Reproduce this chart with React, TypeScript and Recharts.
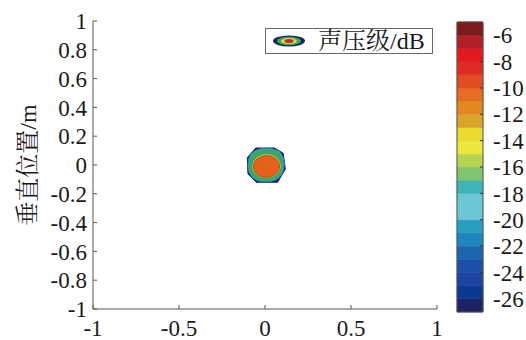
import React from 'react';
import {
  ScatterChart,
  Scatter,
  XAxis,
  YAxis,
  Legend,
  ComposedChart,
  ReferenceArea,
  Label,
} from 'recharts';

// ---------- data ----------
const xTicks = [-1, -0.5, 0, 0.5, 1];
const yTicks = [-1, -0.8, -0.6, -0.4, -0.2, 0, 0.2, 0.4, 0.6, 0.8, 1];
const colorbarTicks = [-26, -24, -22, -20, -18, -16, -14, -12, -10, -8, -6];
const bandEdges = [
  -27, -26, -25, -24, -23, -22, -21, -20, -19, -18, -17, -16, -15, -14, -13, -12,
  -11, -10, -9, -8, -7, -6, -5,
];
// colormap, from lowest band to highest band
const bandColors = [
  '#1c2262', '#0c3890', '#1a44a0', '#1c50a8', '#1c66b0', '#1e86bc', '#2a9ec0',
  '#6cc6d6', '#6cc6d6', '#3db5b8', '#80c470', '#b8d252', '#ece83c', '#eadc2e',
  '#d8a42a', '#e2881f', '#e56c20', '#e24c22', '#e02a24', '#e3191f', '#b21f24',
  '#7d1a20',
];

const legendName = '声压级/dB';
const yLabel = '垂直位置/m';

// contour levels (outer to inner), points in metres
const contourNavy = [
  { x: -0.054, y: 0.118 }, { x: 0.056, y: 0.118 }, { x: 0.106, y: 0.081 },
  { x: 0.118, y: -0.03 }, { x: 0.073, y: -0.12 }, { x: -0.05, y: -0.12 },
  { x: -0.099, y: -0.062 }, { x: -0.103, y: 0.051 },
];
const contourCyan = [
  { x: -0.054, y: 0.118 }, { x: 0.056, y: 0.118 }, { x: 0.106, y: 0.081 },
  { x: 0.118, y: -0.03 }, { x: 0.073, y: -0.12 }, { x: -0.05, y: -0.12 },
  { x: -0.099, y: -0.062 }, { x: -0.103, y: 0.051 },
];
const contourGreen = [
  { x: -0.05, y: 0.11 }, { x: 0.053, y: 0.11 }, { x: 0.099, y: 0.075 },
  { x: 0.11, y: -0.028 }, { x: 0.068, y: -0.112 }, { x: -0.046, y: -0.112 },
  { x: -0.092, y: -0.058 }, { x: -0.095, y: 0.047 },
];
const contourYellow = [
  { x: 0.098, y: -0.008 }, { x: 0.072, y: 0.055 }, { x: 0.009, y: 0.081 },
  { x: -0.054, y: 0.055 }, { x: -0.08, y: -0.008 }, { x: -0.054, y: -0.071 },
  { x: 0.009, y: -0.097 }, { x: 0.072, y: -0.071 },
];
const contourOrange = [
  { x: 0.093, y: -0.01 }, { x: 0.068, y: 0.049 }, { x: 0.009, y: 0.073 },
  { x: -0.05, y: 0.049 }, { x: -0.075, y: -0.01 }, { x: -0.05, y: -0.069 },
  { x: 0.009, y: -0.093 }, { x: 0.068, y: -0.069 },
];

// ---------- styles ----------
const FONT = "'Liberation Serif', 'DejaVu Serif', 'Noto Serif CJK SC', 'Noto Sans CJK SC', serif";
const AXIS = '#555';
const TEXT = '#1a1a1a';

const noShape = () => <g />;

const LegendBox = () => (
  <div
    style={{
      boxSizing: 'border-box',
      width: 168,
      height: 26,
      border: '1px solid #666',
      background: '#fff',
      display: 'flex',
      alignItems: 'center',
      paddingLeft: 6,
      fontFamily: FONT,
    }}
  >
    <svg width={34} height={14} style={{ flex: 'none' }}>
      <ellipse cx={17} cy={7} rx={16} ry={5.5} fill="#16225e" />
      <ellipse cx={17} cy={7} rx={12} ry={4.2} fill="#3aa860" />
      <ellipse cx={17} cy={7} rx={8} ry={3} fill="#d8dc3c" />
      <ellipse cx={17} cy={7} rx={4.5} ry={2} fill="#c0301c" />
    </svg>
    <span style={{ marginLeft: 12, fontSize: 24, color: TEXT, lineHeight: '24px', whiteSpace: 'nowrap' }}>
      {legendName}
    </span>
  </div>
);

export default function App() {
  const bands = bandColors.map((c, i) => ({ k: i, lo: bandEdges[i], hi: bandEdges[i + 1], color: c }));
  return (
    <div style={{ position: 'absolute', left: 0, top: 0, width: 526, height: 340, background: '#fff', fontFamily: FONT }}>
      <div style={{ position: 'absolute', left: 0, top: 0 }}>
        <ScatterChart width={526} height={340} margin={{ top: 21, right: 89, bottom: 0, left: 0 }}>
          <XAxis
            type="number"
            dataKey="x"
            domain={[-1, 1]}
            ticks={xTicks}
            interval={0}
            allowDataOverflow
            height={31}
            tickSize={-4}
            tickMargin={15}
            axisLine={{ stroke: AXIS }}
            tickLine={{ stroke: AXIS }}
            tick={{ fill: TEXT, fontSize: 23, fontFamily: FONT }}
          />
          <XAxis
            xAxisId="top"
            orientation="top"
            type="number"
            domain={[-1, 1]}
            ticks={xTicks}
            interval={0}
            allowDataOverflow
            height={0}
            tickSize={-4}
            tick={false}
            axisLine={{ stroke: AXIS }}
            tickLine={{ stroke: AXIS }}
          />
          <YAxis
            type="number"
            dataKey="y"
            domain={[-1, 1]}
            ticks={yTicks}
            interval={0}
            allowDataOverflow
            width={93}
            tickSize={-4}
            tickMargin={10}
            axisLine={{ stroke: AXIS }}
            tickLine={{ stroke: AXIS }}
            tick={{ fill: TEXT, fontSize: 23, fontFamily: FONT }}
          >
            <Label
              value={yLabel}
              angle={-90}
              position="insideLeft"
              offset={22}
              dx={5}
              fill={TEXT}
              style={{ textAnchor: 'middle', fontSize: 24, fontFamily: FONT }}
            />
          </YAxis>
          <YAxis
            yAxisId="right"
            orientation="right"
            type="number"
            domain={[-1, 1]}
            ticks={yTicks}
            interval={0}
            allowDataOverflow
            width={0}
            tickSize={-4}
            tick={false}
            axisLine={{ stroke: AXIS }}
            tickLine={{ stroke: AXIS }}
          />
          <Scatter data={contourNavy} shape={noShape} line={{ fill: '#16225e', stroke: '#16225e', strokeWidth: 1 }} lineJointType="linearClosed" lineType="joint" isAnimationActive={false} legendType="none" />
          <Scatter data={contourCyan} shape={noShape} line={{ fill: '#38a8c4', stroke: '#2f7cc0', strokeWidth: 1 }} lineJointType="basisClosed" lineType="joint" isAnimationActive={false} legendType="none" />
          <Scatter data={contourGreen} shape={noShape} line={{ fill: '#3aa860', stroke: '#3aa860', strokeWidth: 0.5 }} lineJointType="basisClosed" lineType="joint" isAnimationActive={false} legendType="none" />
          <Scatter data={contourYellow} shape={noShape} line={{ fill: '#d8dc3c', stroke: '#c8d040', strokeWidth: 0.5 }} lineJointType="basisClosed" lineType="joint" isAnimationActive={false} legendType="none" />
          <Scatter data={contourOrange} shape={noShape} line={{ fill: '#e5621c', stroke: '#c0401c', strokeWidth: 1 }} lineJointType="basisClosed" lineType="joint" isAnimationActive={false} legendType="none" />
          <Legend
            layout="vertical"
            align="center"
            verticalAlign="middle"
            wrapperStyle={{ left: 265, top: 28, width: 168, height: 26 }}
            content={() => <LegendBox />}
          />
        </ScatterChart>
      </div>
      <div style={{ position: 'absolute', left: 440, top: 0 }}>
        <ComposedChart data={bands} width={86} height={340} margin={{ top: 22, right: 0, bottom: 28, left: 17 }}>
          <XAxis dataKey="k" type="category" hide />
          <YAxis
            orientation="right"
            type="number"
            domain={[-27, -5]}
            ticks={colorbarTicks}
            interval={0}
            allowDataOverflow
            width={43}
            tickSize={-3}
            tickMargin={13}
            axisLine={false}
            tickLine={{ stroke: '#333' }}
            tick={{ fill: TEXT, fontSize: 23, fontFamily: FONT, textAnchor: 'start' }}
          />
          <YAxis
            yAxisId="cbl"
            orientation="left"
            type="number"
            domain={[-27, -5]}
            ticks={colorbarTicks}
            interval={0}
            allowDataOverflow
            width={0}
            tickSize={-3}
            tick={false}
            axisLine={false}
            tickLine={{ stroke: '#333' }}
          />
          {bands.map((b) => (
            <ReferenceArea key={b.k} y1={b.lo} y2={b.hi} fill={b.color} fillOpacity={1} stroke={b.color} strokeWidth={0.6} ifOverflow="visible" />
          ))}
          <ReferenceArea y1={-27} y2={-5} fill="none" stroke="#555" strokeWidth={1} ifOverflow="visible" />
        </ComposedChart>
      </div>
    </div>
  );
}
